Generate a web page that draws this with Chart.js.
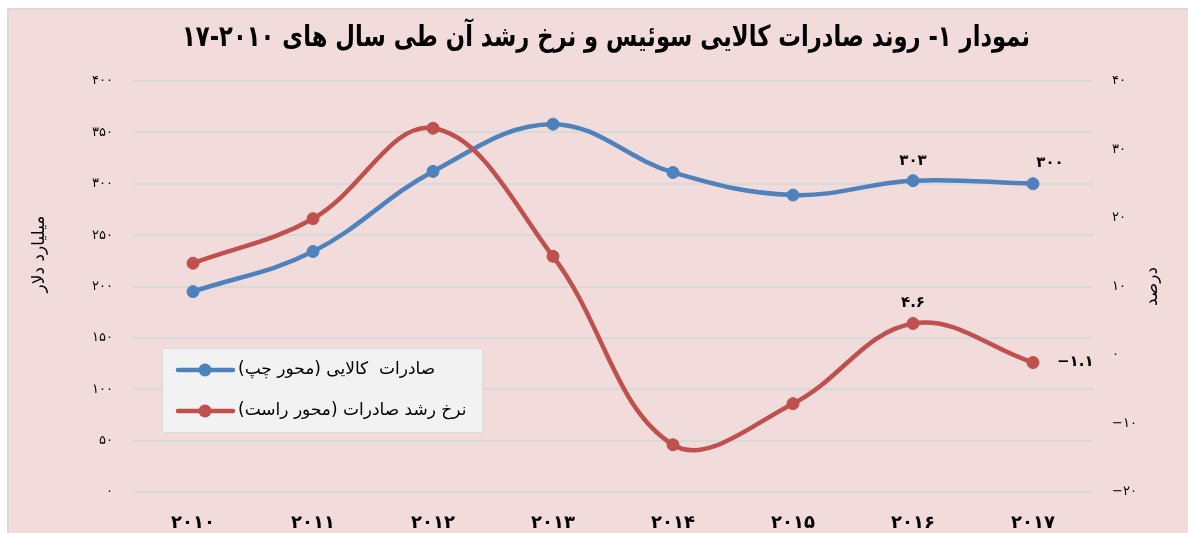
<!DOCTYPE html>
<html>
<head>
<meta charset="utf-8">
<script src="https://cdn.jsdelivr.net/npm/chart.js@4.4.1/dist/chart.umd.min.js"></script>
<style>
html,body{margin:0;padding:0;background:#ffffff;width:1188px;height:533px;overflow:hidden}
#frame{position:absolute;left:7px;top:8px;right:0;bottom:0;background:#F2DCDB;border-top:2px solid #D9D9D9;border-left:2px solid #D9D9D9}
#wrap{position:absolute;left:0;top:0;width:1188px;height:533px}
</style>
</head>
<body>
<div id="frame"></div>
<div id="wrap"><canvas id="c" width="1188" height="533"></canvas></div>
<script>
// ---- data ----
const categories = ['۲۰۱۰','۲۰۱۱','۲۰۱۲','۲۰۱۳','۲۰۱۴','۲۰۱۵','۲۰۱۶','۲۰۱۷'];
const exportsBn = [195, 234, 312, 358, 311, 289, 303, 300];
const growthPct = [13.4, 19.9, 33.1, 14.4, -13.1, -7.1, 4.6, -1.1];
const leftTickLabels = ['۰','۵۰','۱۰۰','۱۵۰','۲۰۰','۲۵۰','۳۰۰','۳۵۰','۴۰۰'];
const rightTickLabels = ['−۲۰','−۱۰','۰','۱۰','۲۰','۳۰','۴۰'];
const seriesNames = ['صادرات  کالایی (محور چپ)', 'نرخ رشد صادرات (محور راست)'];
const titleText = 'نمودار ۱- روند صادرات کالایی سوئیس و نرخ رشد آن طی سال های ٢٠١٠-١٧';
const leftAxisTitle = 'میلیارد دلار';
const rightAxisTitle = 'درصد';
// data labels: [datasetIndex, pointIndex, placement]
const labelledPoints = [[0,6,'above'],[0,7,'aboveRight'],[1,6,'above'],[1,7,'right']];

const FONT = '"DejaVu Sans", sans-serif';
const BLUE = '#4F81BD';
const RED = '#C0504D';

function toFa(v){
  const d = '۰۱۲۳۴۵۶۷۸۹';
  const s = String(Math.abs(v)).replace(/[0-9]/g, c => d[+c]);
  return (v < 0 ? '−' : '') + s;
}

const deco = {
  id: 'deco',
  afterDraw(chart){
    const ctx = chart.ctx;
    const a = chart.chartArea;
    ctx.save();
    // title
    ctx.direction = 'rtl';
    ctx.fillStyle = '#000';
    ctx.textAlign = 'center';
    ctx.textBaseline = 'middle';
    ctx.font = 'bold 29px ' + FONT;
    ctx.fillText(titleText, 606, 38, 848);

    // axis titles
    ctx.font = '17px ' + FONT;
    ctx.save();
    ctx.translate(40, 254);
    ctx.rotate(-Math.PI/2);
    ctx.fillText(leftAxisTitle, 0, 0);
    ctx.restore();
    ctx.save();
    ctx.translate(1153, (a.top + a.bottom)/2);
    ctx.rotate(-Math.PI/2);
    ctx.fillText(rightAxisTitle, 0, 0);
    ctx.restore();

    // data labels
    ctx.direction = 'ltr';
    ctx.font = 'bold 15px ' + FONT;
    labelledPoints.forEach(([ds, i, place]) => {
      const el = chart.getDatasetMeta(ds).data[i];
      const txt = toFa(chart.data.datasets[ds].data[i]);
      if (place === 'above') { ctx.textAlign='center'; ctx.fillText(txt, el.x, el.y - 20); }
      else if (place === 'aboveRight') { ctx.textAlign='center'; ctx.fillText(txt, el.x + 17, el.y - 21); }
      else { ctx.textAlign='left'; ctx.fillText(txt, el.x + 24, el.y); }
    });

    // legend
    ctx.font = '17px ' + FONT;
    const bx = 162, by = 348, rowH = 41, textX = 238;
    let maxW = 0;
    chart.data.datasets.forEach(d => { maxW = Math.max(maxW, ctx.measureText(d.label).width); });
    const bw = textX - bx + maxW + 16, bh = 84;
    ctx.fillStyle = '#F2F2F2';
    ctx.fillRect(bx, by, bw, bh);
    ctx.strokeStyle = '#D9D9D9';
    ctx.lineWidth = 1;
    ctx.strokeRect(bx + 0.5, by + 0.5, bw, bh);
    chart.data.datasets.forEach((d, k) => {
      const y = by + 22 + k * rowH;
      ctx.strokeStyle = d.borderColor;
      ctx.lineWidth = 4.5;
      ctx.lineCap = 'round';
      ctx.beginPath(); ctx.moveTo(178, y); ctx.lineTo(233, y); ctx.stroke();
      ctx.fillStyle = d.borderColor;
      ctx.beginPath(); ctx.arc(205, y, 6.5, 0, Math.PI*2); ctx.fill();
      ctx.fillStyle = '#000';
      ctx.direction = 'rtl';
      ctx.textAlign = 'left';
      ctx.textBaseline = 'middle';
      ctx.fillText(d.label, textX, y);
    });
    ctx.restore();
  }
};

new Chart(document.getElementById('c'), {
  type: 'line',
  data: {
    labels: categories,
    datasets: [
      { label: seriesNames[0], data: exportsBn, yAxisID: 'yL', borderColor: BLUE, backgroundColor: BLUE,
        borderWidth: 4.5, pointRadius: 6, pointBorderWidth: 1, pointBackgroundColor: BLUE, pointBorderColor: BLUE,
        tension: 0.38, order: 1, fill: false },
      { label: seriesNames[1], data: growthPct, yAxisID: 'yR', borderColor: RED, backgroundColor: RED,
        borderWidth: 4.5, pointRadius: 6, pointBorderWidth: 1, pointBackgroundColor: RED, pointBorderColor: RED,
        tension: 0.38, order: 0, fill: false }
    ]
  },
  options: {
    responsive: false,
    animation: false,
    events: [],
    layout: { padding: { top: 81, left: 0, right: 0, bottom: 0 } },
    plugins: { legend: { display: false }, title: { display: false }, tooltip: { enabled: false } },
    scales: {
      x: {
        offset: true,
        grid: { display: false },
        border: { display: false },
        ticks: { color: '#000', font: { family: FONT, size: 18, weight: 'bold' }, padding: 13, maxRotation: 0 },
        afterFit: s => { s.height = 41; }
      },
      yL: {
        position: 'left', min: 0, max: 400,
        grid: { color: '#D9D9D9', lineWidth: 2, drawTicks: false },
        border: { display: false },
        ticks: { stepSize: 50, padding: 20, color: '#000', font: { family: FONT, size: 13 },
                 callback: (v, i) => leftTickLabels[i] },
        afterFit: s => { s.width = 133; }
      },
      yR: {
        position: 'right', min: -20, max: 40,
        grid: { display: false, drawOnChartArea: false, drawTicks: false },
        border: { display: false },
        ticks: { stepSize: 10, padding: 19, color: '#000', font: { family: FONT, size: 13 },
                 callback: (v, i) => rightTickLabels[i] },
        afterFit: s => { s.width = 95; }
      }
    }
  },
  plugins: [deco]
});
</script>
</body>
</html>
